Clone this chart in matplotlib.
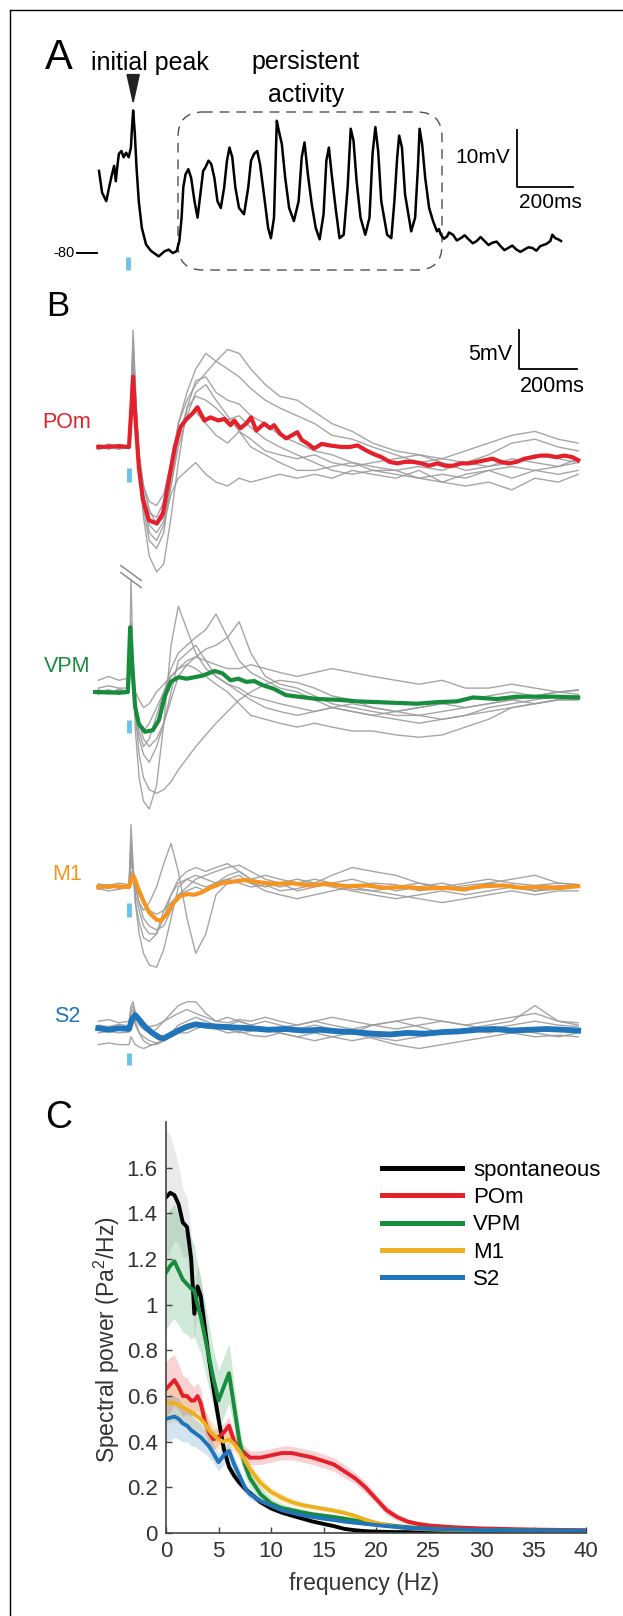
import numpy as np
import matplotlib
matplotlib.use('Agg')
import matplotlib.pyplot as plt
from matplotlib.patches import FancyBboxPatch
from matplotlib.ticker import FuncFormatter

plt.rcParams['font.family'] = ['Liberation Sans', 'DejaVu Sans']
plt.rcParams['mathtext.fontset'] = 'custom'
plt.rcParams['mathtext.rm'] = 'Liberation Sans'
plt.rcParams['mathtext.default'] = 'regular'

W, H = 623, 1616

# ---------------- panel A : example trace (ms, mV)
a_t = [0, 11, 26, 36, 45, 54, 60, 65, 71, 80,
       88, 97, 106, 114, 118, 122, 128, 134, 142, 153,
       168, 185, 213, 234, 249, 263, 277, 287, 295, 301,
       309, 319, 329, 341, 352, 362, 372, 380, 391, 401,
       412, 423, 435, 447, 457, 466, 476, 487, 500, 518,
       533, 543, 554, 565, 575, 589, 604, 614, 625, 635,
       642, 653, 665, 679, 696, 713, 724, 734, 746, 760,
       774, 788, 802, 812, 821, 831, 845, 859, 874, 888,
       899, 909, 920, 934, 951, 966, 977, 987, 997, 1008,
       1029, 1044, 1055, 1065, 1072, 1082, 1093, 1115, 1129, 1139,
       1145, 1154, 1165, 1179, 1193, 1207, 1214, 1221, 1232, 1243,
       1250, 1264, 1278, 1292, 1306, 1320, 1335, 1349, 1363, 1377,
       1391, 1405, 1420, 1434, 1448, 1462, 1476, 1491, 1505, 1519,
       1533, 1547, 1562, 1576, 1598, 1612, 1619, 1630, 1640, 1650]
a_v = [-65.6, -69.4, -70.9, -68.5, -66.5, -64.7, -67.4, -65.0, -62.6, -62.1,
       -63.2, -62.4, -63.2, -61.5, -57.9, -55.0, -59.1, -65.0, -70.9, -75.6,
       -78.5, -79.6, -80.6, -79.7, -79.4, -80.0, -79.7, -77.9, -73.8, -68.5,
       -66.2, -65.3, -66.8, -70.9, -73.8, -69.7, -65.6, -65.0, -63.8, -64.4,
       -66.8, -70.9, -72.1, -68.5, -63.8, -61.5, -63.2, -68.5, -72.1, -73.2,
       -68.5, -63.8, -62.6, -62.1, -64.4, -69.7, -75.6, -77.4, -73.8, -56.8,
       -58.5, -60.9, -66.8, -72.1, -74.4, -70.9, -63.2, -60.6, -66.2, -71.5,
       -75.6, -77.6, -73.2, -63.8, -61.5, -66.2, -72.1, -77.4, -76.8, -68.5,
       -58.2, -60.3, -67.4, -73.8, -76.8, -73.8, -62.6, -57.9, -62.1, -70.9,
       -76.8, -77.4, -70.9, -63.2, -59.4, -61.5, -69.7, -76.2, -73.8, -65.0,
       -58.2, -60.9, -66.8, -72.1, -74.4, -76.2, -75.8, -76.8, -77.5, -77.1,
       -76.4, -76.8, -77.8, -77.4, -76.9, -77.6, -78.3, -77.9, -77.2, -77.9,
       -78.6, -78.2, -78.0, -78.8, -79.5, -79.1, -78.7, -79.4, -79.8, -79.4,
       -79.0, -79.1, -79.6, -78.8, -78.4, -77.9, -76.8, -77.4, -77.6, -77.9]
a_stim = 104

# ---------------- panel B : evoked responses (ms, mV re. baseline)
b_t = [-106, -70, -35, 0, 7, 14, 22, 35, 50, 70, 95, 120, 145, 170, 200, 230, 265, 300, 340,
       380, 420, 470, 520, 580, 640, 700, 770, 840, 920, 1000, 1080, 1160, 1240, 1320, 1400,
       1480, 1549]

pom_gray = [
    [-0.3, 0.4, -0.2, 0, 5, 12, 6, -2, -6, -8.5, -9, -7, -2, 3, 6, 8, 9.5, 11, 12.5, 12,
     10, 8, 6.5, 6, 4.5, 3, 2, 0.5, -0.5, -1, -1.5, -2, -1, 0.5, 1, 0, -0.5],
    [0.2, -0.3, 0.3, 0, 6, 15, 8, -3, -9, -14, -16, -15, -9, -2, 5, 8.5, 9, 7, 6, 5.5,
     4, 3, 1.5, 0.5, -0.5, -1, -2, -2.5, -3, -2.5, -3, -2, -2.5, -2, -1, -1.5, -2],
    [-0.2, 0.2, 0, 0, 4, 10, 5, -1, -5, -8, -10, -9, -5, 1, 5, 6.5, 6, 5, 3.5, 4,
     2.5, 1, 0, -1, -2, -3, -3.5, -3, -3, -4, -4.5, -3.5, -3, -4, -3, -3.5, -3],
    [0.3, 0, -0.3, 0, 5, 13, 7, -2, -7, -11, -12, -10, -6, -4, -3, -2, -3.5, -4.5, -5, -4,
     -4.5, -4, -3.5, -4, -3.5, -4, -3, -3.5, -4, -3, -4.5, -5, -4.5, -5.5, -4, -4.5, -3.5],
    [0, 0.2, -0.2, 0, 6, 14, 7, -2, -8, -12, -13, -11, -4, 3, 7, 10, 12, 11, 10, 9,
     7.5, 6, 5, 4, 3, 1.5, 1, 0, -1, -2, -1.5, -0.5, 0.5, 1.5, 2, 1, 0.5],
    [-0.3, 0, 0.3, 0, 5, 11, 6, -1, -5, -7, -7.5, -6, -2, 2, 4, 4.5, 3, 1.5, 0.5, 2,
     1, -0.5, -1, -1.5, -1, -2, -2.5, -2, -1.5, -1, -2, -3, -2.5, -1.5, -2, -2.5, -1.5],
    [0.1, -0.2, 0.2, 0, 4, 12, 6, -2, -7, -10, -11, -9.5, -5, 0, 4, 7, 8, 6, 4, 2,
     0, -1, -2, -3, -3, -2.5, -2, -3, -3.5, -4, -3.5, -4, -3, -2.5, -3, -2.5, -2],
]
pom_mean_t = [-106, -34, 0, 7, 14, 21, 34, 48, 69, 96, 117, 137, 158, 178, 199, 219, 236, 247,
              260, 281, 308, 329, 350, 363, 384, 404, 421, 439, 466, 487, 500, 521, 542, 562,
              580, 596, 617, 638, 665, 692, 733, 761, 788, 816, 843, 871, 898, 925, 953, 980,
              1008, 1035, 1063, 1090, 1117, 1145, 1172, 1200, 1227, 1254, 1282, 1309, 1337,
              1364, 1392, 1419, 1446, 1474, 1501, 1529, 1549]
pom_mean_v = [0, 0.1, 0, 4.3, 9.0, 4.3, -2.6, -6.8, -9.4, -9.8, -8.5, -4.3, 0, 2.6, 3.6, 4.3,
              5.1, 4.3, 3.4, 3.8, 3.4, 3.6, 2.8, 3.4, 2.4, 3.0, 3.8, 2.1, 3.0, 2.4, 2.8, 1.7,
              1.1, 1.5, 1.9, 0.9, 0.4, -0.2, 0.4, 0.2, 0, 0, 0.2, -0.4, -0.9, -1.3, -1.9, -2.1,
              -1.9, -1.9, -2.1, -2.4, -2.1, -2.4, -2.4, -2.1, -2.1, -1.9, -1.7, -1.5, -1.9,
              -2.1, -1.9, -1.5, -1.3, -1.1, -1.1, -1.3, -1.1, -1.3, -1.7]

vpm_gray = [
    [0.3, -0.2, 0.4, 0, 14.4, 4, -5, -11, -14, -15, -12, -4, 6, 11, 8, 5, 3, 2, 1, 0.5,
     -0.5, -1, -1.5, -2, -2.5, -2, -2.5, -3, -2.5, -2, -1.5, -1, -0.5, 0, -0.5, 0, -0.3],
    [1.5, 2, 1.5, 1.8, 6, 2, -3, -8, -11, -12.5, -13, -12.5, -11.5, -10, -8.5, -7, -5.5, -4,
     -2.5, -1, 0, 1, 1.5, 1.2, 0.5, -0.5, -1, -2, -2.5, -3, -2.5, -2, -1.5, -1, -0.5, 0, 0.3],
    [-0.3, 0.2, -0.2, 0, 9, 3, -2, -5, -7, -6, -3, 0, 3, 5, 6, 7, 8, 10, 7, 4,
     2.5, 1.5, 0.5, 0, -1, -2, -2.5, -3, -3.5, -4, -3.5, -3, -2, -1.5, -1, -0.5, -0.5],
    [0.2, -0.2, 0.2, 0, 7, 2, -2, -4, -5, -4, -2, 0, 2, 3, 3.5, 4.5, 5.5, 6, 7, 9,
     5, 2, 1, 0.5, -0.5, -1.5, -2, -2.5, -3, -3, -3.5, -3, -2.5, -2, -1.5, -1, -1],
    [0, 0.3, -0.2, 0, 5, 1, -3, -6, -8, -9, -7, -4, -1, 2, 3.5, 3, 2, 1, 0, -1.5,
     -3, -3.5, -4, -4.5, -4, -4.5, -5, -5, -5.5, -5.8, -5.5, -4.5, -3.5, -2, -1.5, -1, -1],
    [0.5, 0.8, 0.5, 0.5, 6, 2, 0, -1, -2, -1.5, 0, 1, 2, 3, 4, 4.5, 4, 3.5, 3, 3,
     3.5, 3, 2.5, 2, 2.5, 3, 2.5, 2, 1.5, 1, 1.5, 0.5, 0.5, 1, 0.5, 0, 0.2],
    [-0.2, 0, 0.2, 0, 8, 3, -1, -4, -6, -7, -6, -4, 0, 4, 5, 6, 4, 2, 1, 0,
     -1, -2, -2.5, -3, -2.5, -2, -1.5, -2, -2.5, -2, -1.5, -2, -1.5, -1, -1.5, -1, -0.5],
]
vpm_mean_t = [-117, -34, -4, 4, 11, 21, 34, 55, 82, 103, 123, 144, 171, 199, 226, 254, 295,
              322, 350, 377, 404, 432, 459, 500, 541, 583, 651, 720, 788, 857, 925, 994, 1063,
              1131, 1186, 1268, 1337, 1405, 1474, 1549]
vpm_mean_v = [0, -0.1, 0, 8.3, 3.6, -1.9, -4.1, -5.1, -4.9, -3.6, -0.6, 1.3, 1.9, 1.7, 1.9,
              2.1, 2.7, 2.4, 1.5, 1.7, 1.3, 1.4, 0.9, 0.4, -0.4, -0.6, -0.9, -1.0, -1.2, -1.3,
              -1.4, -1.5, -1.3, -1.2, -0.7, -0.9, -0.6, -0.6, -0.6, -0.7]

m1_gray = [
    [0.3, -0.2, 0.2, 0, 8, 3, -2, -6, -8.5, -10, -10.3, -8, -4, 0, 1, 0.5, 0, 0.5, 1, 0.5,
     0, 0.3, -0.5, -0.2, 0.3, 0.5, -0.3, -0.5, 0, 0.5, -0.3, 0.2, 0.5, 0, -0.5, 0.2, 0],
    [-0.3, 0.2, 0, 0, 3, 2, 0, -2, -3, -2, 0, 3, 5.6, 2, -4, -8.5, -6, -1, 0.5, 1,
     0.5, 0, 0.5, -0.5, 0, 0.5, 1, 0.3, -0.5, 0, 0.5, -0.2, 0, 0.3, -0.5, 0, 0.2],
    [0, 0.3, -0.2, 0, 4, 2, -1, -3, -5, -6, -6, -4, -1, 1, 2, 2.5, 2, 2.5, 3, 2,
     1, 1.5, 1, 0.5, 0.5, 1.5, 2.5, 2, 1.5, 0.5, 0, -0.5, 0.5, 1, 1.5, 0.5, 0.3],
    [0.2, 0, 0.2, 0, 5, 2, 0, -2, -4, -5, -5.5, -5, -3, -1, 0, 1, 1.5, 2, 2.5, 2.8,
     2, 1, 0.5, 1, 0.5, 0, -0.5, -1, -1.5, -1, -0.5, -1, -0.5, 0, -0.5, -0.3, 0],
    [-0.2, -0.5, -0.3, 0, 2, 1, 0, -1, -2, -3, -3.5, -3, -2, -1, -0.5, 0, -0.5, 0.5, 1, 1.5,
     0.5, -0.5, -1, -1.5, -1, -0.5, 0, -0.5, -1, -1.5, -2, -1.5, -1, -0.5, -1, -0.5, -0.5],
    [0.4, 0.2, 0.5, 0.3, 6, 2, -2, -4.5, -6.5, -7, -6, -3, -1, 0.5, 1, 1.5, 1, 0.5, 1.5, 2,
     1, 0.5, 0, 0.5, 1, 0.5, 0, 0.5, 0.3, -0.5, 0, 0.5, 1, 0.5, 0.2, 0.5, 0.3],
]
m1_mean_t = [-106, -50, 0, 7, 14, 22, 35, 50, 70, 95, 110, 130, 150, 175, 200, 225, 250, 280,
             320, 360, 400, 450, 500, 560, 620, 680, 750, 820, 880, 950, 1020, 1090, 1150,
             1220, 1290, 1350, 1420, 1490, 1549]
m1_mean_v = [0, 0.1, 0, 0.8, 1.5, 0.8, -0.5, -1.8, -3.3, -4.2, -4.3, -3.5, -2.2, -1.2, -0.9,
             -1.0, -0.7, -0.1, 0.5, 0.7, 0.9, 0.6, 0.4, 0.5, 0.2, 0.4, 0.1, 0.2, -0.1, 0.0,
             -0.2, -0.1, -0.3, 0.1, 0.2, -0.1, 0.0, -0.1, 0.1]

s2_gray = [
    [0.5, 0.3, 0.6, 0.4, 3, 3.5, 2, 0.5, 0, -0.5, 0, 1, 2, 3, 3.5, 3.5, 2, 1, 1.5, 1,
     0.5, 1, 0.5, 0, 0.5, 0, -0.5, 0.5, 0, 0.5, 1, 0.5, 0, 0.5, 1, 0.5, 0.3],
    [-2, -1.8, -2, -2, -1, -1.5, -2, -2.3, -2.5, -2.2, -1.8, -1.5, -1, -0.5, 0, 0.5, 0.3, 0,
     -0.5, -0.3, -0.8, -1, -0.5, -1, -1.5, -1, -0.5, -1.2, -2, -2.5, -2, -1.5, -1, -0.5, -1,
     -0.8, -1],
    [0, 0.2, -0.2, 0, 2, 2.5, 1, -0.5, -1.5, -2, -2, -1.5, -0.5, 0.5, 1, 1.5, 1, 0.5, 0.5, 1,
     0.5, -0.3, 0.2, 0.5, 1, 0.5, 0, 0.5, 1, 0.3, -0.5, 0, 0.5, 1, 3, 1, 0.5],
    [-0.5, -0.3, -0.5, -0.4, 1, 1.5, 0.5, -0.5, -1, -1.5, -1.8, -1.5, -1, -0.5, -0.5, 0, 0.5,
     0.3, 0, -0.5, -0.3, 0, -0.5, -1, -0.5, -1, -1.5, -1, -1.5, -1, -0.5, 0, -0.5, 0, -0.5,
     -1, -0.5],
    [1, 1.2, 0.8, 1, 2.5, 3, 2, 1, 0.5, 0.3, 0.5, 1, 1.5, 2, 2.5, 2, 1.5, 1, 0.8, 1.2,
     1, 1.5, 1, 0.5, 1, 1.5, 1, 0.5, 1, 1.5, 1, 0.5, 1, 1.5, 2, 1, 0.8],
]
s2_mean_t = [-106, -70, -35, 0, 10, 21, 35, 55, 80, 105, 120, 140, 170, 200, 230, 270, 310,
             360, 420, 480, 540, 600, 660, 720, 780, 840, 900, 960, 1020, 1080, 1140, 1200,
             1260, 1320, 1380, 1440, 1500, 1549]
s2_mean_v = [0.1, -0.1, 0.1, 0, 1.2, 1.8, 1.2, 0.3, -0.5, -1.1, -1.2, -0.8, -0.2, 0.3, 0.6,
             0.4, 0.3, 0.2, 0.1, -0.1, 0.0, -0.2, -0.1, -0.3, -0.4, -0.6, -0.7, -0.5, -0.6,
             -0.4, -0.3, -0.1, 0.0, -0.2, -0.1, 0.0, -0.1, -0.2]

# ---------------- panel C : power spectra
freq = [0, 0.4, 0.8, 1.2, 1.6, 2.0, 2.4, 2.7, 3.0, 3.3, 3.7, 4.1, 4.5, 5.0, 5.5, 6.0, 6.5,
        7.0, 7.5, 8, 9, 10, 11, 12, 13, 14, 15, 16, 17, 18, 19, 20, 21, 22, 23, 24, 25,
        27.5, 30, 35, 40]
spont = [1.47, 1.49, 1.48, 1.44, 1.36, 1.34, 1.2, 0.96, 1.08, 1.04, 0.9, 0.76, 0.64, 0.5,
         0.37, 0.29, 0.25, 0.22, 0.195, 0.175, 0.135, 0.108, 0.09, 0.076, 0.063, 0.05, 0.04,
         0.03, 0.018, 0.012, 0.008, 0.006, 0.005, 0.004, 0.004, 0.004, 0.004, 0.004, 0.004,
         0.004, 0.004]
spont_err = [0.3, 0.25, 0.2, 0.17, 0.15, 0.13, 0.12, 0.1, 0.1, 0.09, 0.08, 0.07, 0.06, 0.05,
             0.04, 0.03, 0.025, 0.02, 0.02, 0.015, 0.012, 0.01, 0.01, 0.008, 0.008, 0.007,
             0.006, 0.005, 0.004, 0.003, 0.003, 0.002, 0.002, 0.002, 0.002, 0.002, 0.002,
             0.002, 0.002, 0.002, 0.002]
pom_psd = [0.63, 0.65, 0.67, 0.64, 0.6, 0.6, 0.58, 0.58, 0.6, 0.57, 0.49, 0.44, 0.41, 0.42,
           0.44, 0.47, 0.4, 0.37, 0.35, 0.33, 0.33, 0.34, 0.35, 0.35, 0.34, 0.33, 0.315, 0.3,
           0.27, 0.24, 0.2, 0.15, 0.1, 0.07, 0.05, 0.04, 0.033, 0.025, 0.02, 0.015, 0.012]
pom_err = [0.12, 0.12, 0.11, 0.1, 0.09, 0.08, 0.07, 0.06, 0.06, 0.06, 0.05, 0.05, 0.045, 0.04,
           0.04, 0.04, 0.035, 0.03, 0.03, 0.03, 0.03, 0.03, 0.03, 0.03, 0.03, 0.03, 0.03, 0.03,
           0.03, 0.025, 0.025, 0.02, 0.02, 0.015, 0.012, 0.01, 0.01, 0.008, 0.006, 0.005, 0.005]
vpm_psd = [1.14, 1.17, 1.19, 1.15, 1.11, 1.09, 1.07, 1.06, 1.0, 0.95, 0.86, 0.77, 0.68, 0.58,
           0.64, 0.7, 0.55, 0.4, 0.3, 0.24, 0.17, 0.13, 0.11, 0.1, 0.09, 0.082, 0.076, 0.07,
           0.063, 0.055, 0.048, 0.042, 0.036, 0.03, 0.026, 0.022, 0.02, 0.016, 0.013, 0.011,
           0.01]
vpm_err = [0.25, 0.25, 0.25, 0.24, 0.23, 0.22, 0.22, 0.2, 0.18, 0.16, 0.15, 0.14, 0.13, 0.13,
           0.13, 0.13, 0.1, 0.07, 0.05, 0.04, 0.03, 0.025, 0.02, 0.015, 0.015, 0.012, 0.01,
           0.01, 0.01, 0.008, 0.008, 0.006, 0.006, 0.005, 0.005, 0.004, 0.004, 0.003, 0.003,
           0.003, 0.003]
m1_psd = [0.57, 0.57, 0.57, 0.56, 0.55, 0.54, 0.53, 0.52, 0.51, 0.5, 0.48, 0.45, 0.43, 0.41,
          0.4, 0.41, 0.39, 0.36, 0.32, 0.28, 0.22, 0.18, 0.155, 0.135, 0.122, 0.114, 0.106,
          0.098, 0.088, 0.075, 0.058, 0.045, 0.034, 0.026, 0.021, 0.018, 0.016, 0.013, 0.011,
          0.009, 0.008]
m1_err = [0.09, 0.09, 0.08, 0.08, 0.08, 0.07, 0.07, 0.07, 0.06, 0.06, 0.06, 0.05, 0.05, 0.05,
          0.04, 0.04, 0.04, 0.035, 0.03, 0.03, 0.025, 0.02, 0.02, 0.015, 0.015, 0.012, 0.012,
          0.01, 0.01, 0.01, 0.008, 0.008, 0.006, 0.005, 0.005, 0.004, 0.004, 0.003, 0.003,
          0.003, 0.003]
s2_psd = [0.5, 0.505, 0.51, 0.5, 0.48, 0.47, 0.45, 0.44, 0.43, 0.42, 0.4, 0.38, 0.35, 0.31,
          0.34, 0.36, 0.3, 0.25, 0.2, 0.17, 0.14, 0.12, 0.1, 0.088, 0.078, 0.07, 0.063, 0.057,
          0.05, 0.045, 0.04, 0.035, 0.03, 0.026, 0.022, 0.02, 0.018, 0.015, 0.013, 0.011, 0.01]
s2_err = [0.1, 0.1, 0.09, 0.09, 0.08, 0.07, 0.07, 0.06, 0.06, 0.06, 0.05, 0.05, 0.04, 0.04,
          0.04, 0.04, 0.035, 0.03, 0.025, 0.02, 0.015, 0.012, 0.01, 0.01, 0.008, 0.008, 0.006,
          0.006, 0.005, 0.005, 0.004, 0.004, 0.004, 0.003, 0.003, 0.003, 0.003, 0.002, 0.002,
          0.002, 0.002]

red, green, orange, blue = '#E4202B', '#168C3C', '#F7941D', '#1F74BA'
orange_c = '#EDB120'
stim_c = '#6BC4E8'
gray = '#9c9c9c'

fig = plt.figure(figsize=(W / 100, H / 100), dpi=100)


def px_axes(left, top, right, bottom):
    return fig.add_axes([left / W, 1 - bottom / H, (right - left) / W, (bottom - top) / H])


def trace_axes(top, bottom, t0_px, ms_px, base_py, base_v, mv_px, left=15, right=620):
    ax = px_axes(left, top, right, bottom)
    ax.set_xlim((left - t0_px) / ms_px, (right - t0_px) / ms_px)
    ax.set_ylim(base_v - (bottom - base_py) / mv_px, base_v + (base_py - top) / mv_px)
    ax.axis('off')
    return ax


# overlay in pixel units for frame, panel letters and labels
ov = px_axes(0, 0, W, H)
ov.set_xlim(0, W)
ov.set_ylim(H, 0)
ov.axis('off')
ov.plot([10, 10], [10, H], color='black', lw=1)
ov.plot([10, W], [10, 10], color='black', lw=1)

# ---- A
axA = trace_axes(30, 290, 99, 0.28, 253, -80, 5.7)
axA.plot(a_t, a_v, color='black', lw=1.8)
axA.plot([-79, -7], [-80, -80], color='black', lw=1.4)
axA.text(-86, -80, '-80', ha='right', va='center', fontsize=10.5)
axA.plot([a_stim, a_stim], [-80.7, -83.0], color=stim_c, lw=3.5, solid_capstyle='butt')
ipk = int(np.argmax(a_v))
axA.annotate('', xy=(a_t[ipk], a_v[ipk] + 0.9), xytext=(a_t[ipk], a_v[ipk] + 6.2),
             arrowprops=dict(arrowstyle='-|>,head_length=1.9,head_width=0.42', mutation_scale=10,
                             color='#222222', lw=1.3, shrinkA=0, shrinkB=0))
x0, y0 = 1493, -68.4
axA.plot([x0, x0, x0 + 200], [y0 + 10, y0, y0], color='black', lw=1.3)
axA.text(x0 - 25, y0 + 5.1, '10mV', ha='right', va='center', fontsize=15)
axA.text(x0 + 118, y0 - 2.8, '200ms', ha='center', va='center', fontsize=15)

ov.add_patch(FancyBboxPatch((178, 112), 264, 158, boxstyle='round,pad=0,rounding_size=25',
                            fill=False, ec='#505050', lw=1.0, ls=(0, (7, 5))))
ov.text(45, 58, 'A', fontsize=30, ha='left', va='center')
ov.text(150, 63, 'initial peak', fontsize=18, ha='center', va='center')
ov.text(306, 62, 'persistent', fontsize=18, ha='center', va='center')
ov.text(306, 95, 'activity', fontsize=18, ha='center', va='center')

# ---- B
groups = [
    ('POm', 447, 422, pom_gray, pom_mean_t, pom_mean_v, red, 3.0, (-2.7, -4.5)),
    ('VPM', 692, 666, vpm_gray, vpm_mean_t, vpm_mean_v, green, 3.0, (-3.6, -5.3)),
    ('M1', 887, 875, m1_gray, m1_mean_t, m1_mean_v, orange, 3.0, (-2.1, -3.8)),
    ('S2', 1029, 1017, s2_gray, s2_mean_t, s2_mean_v, blue, 4.2, (-3.1, -4.6)),
]
b_axes = {}
for name, base_py, lab_py, gr, mt, mv, col, lw, tick in groups:
    ax = trace_axes(280, 1100, 129, 0.29, base_py, 0, 7.8)
    for tr in gr:
        ax.plot(b_t, tr, color=gray, lw=1.0, alpha=0.9)
    ax.plot(mt, mv, color=col, lw=lw)
    ax.plot([0, 0], list(tick), color=stim_c, lw=3.5, solid_capstyle='butt')
    ov.text(67, lab_py, name, color=col, fontsize=15.5, ha='center', va='center')
    b_axes[name] = ax

# truncated VPM spike
for dv in (0, -0.9):
    b_axes['VPM'].plot([-28, 42], [16.2 + dv, 14.3 + dv], color='#8a8a8a', lw=1.1)

axP = b_axes['POm']
x0, y0 = 1345, 10
axP.plot([x0, x0, x0 + 200], [y0 + 5, y0, y0], color='black', lw=1.3)
axP.text(x0 - 24, y0 + 1.9, '5mV', ha='right', va='center', fontsize=15.5)
axP.text(x0 + 114, y0 - 2.2, '200ms', ha='center', va='center', fontsize=15.5)
ov.text(46, 307, 'B', fontsize=25, ha='left', va='center')

# ---- C
ov.text(45, 1118, 'C', fontsize=27, ha='left', va='center')
axC = px_axes(166, 1122, 586, 1533)
series = [
    ('spontaneous', spont, spont_err, 'black', '#9a9a9a'),
    ('POm', pom_psd, pom_err, red, red),
    ('VPM', vpm_psd, vpm_err, green, green),
    ('M1', m1_psd, m1_err, orange_c, orange_c),
    ('S2', s2_psd, s2_err, blue, blue),
]
f = np.array(freq)
for name, y, e, col, fcol in series:
    y = np.array(y)
    e = np.array(e)
    axC.fill_between(f, y - e, y + e, color=fcol, alpha=0.2, lw=0)
handles = []
for name, y, e, col, fcol in series:
    h, = axC.plot(f, y, color=col, lw=2.8, label=name)
    handles.append(h)
axC.set_xlim(0, 40)
axC.set_ylim(0, 1.8)
axC.set_xticks(range(0, 41, 5))
axC.set_yticks([0, 0.2, 0.4, 0.6, 0.8, 1.0, 1.2, 1.4, 1.6])
axC.yaxis.set_major_formatter(FuncFormatter(lambda v, p: f'{v:g}'))
for s in ('top', 'right'):
    axC.spines[s].set_visible(False)
for s in ('left', 'bottom'):
    axC.spines[s].set_color('#444444')
    axC.spines[s].set_linewidth(1.2)
axC.tick_params(direction='in', length=4, width=1, colors='#444444', labelcolor='#333333',
                labelsize=16, pad=6)
axC.set_xlabel('frequency (Hz)', fontsize=16.5, color='#333333', va='center')
axC.set_ylabel('Spectral power (Pa$^{2}$/Hz)', fontsize=16.5, color='#333333', va='center')
axC.yaxis.set_label_coords(-0.14, 0.47)
axC.xaxis.set_label_coords(0.471, -0.122)
axC.patch.set_alpha(0)
leg = axC.legend(handles=handles, loc='upper left', bbox_to_anchor=(382 / W, 1 - 1160 / H),
                 bbox_transform=fig.transFigure, frameon=False, fontsize=16, handlelength=3.6,
                 handletextpad=0.5, labelspacing=0.28, borderpad=0, borderaxespad=0)
for ln in leg.get_lines():
    ln.set_linewidth(3.6)

fig.savefig('out.png', dpi=100)
